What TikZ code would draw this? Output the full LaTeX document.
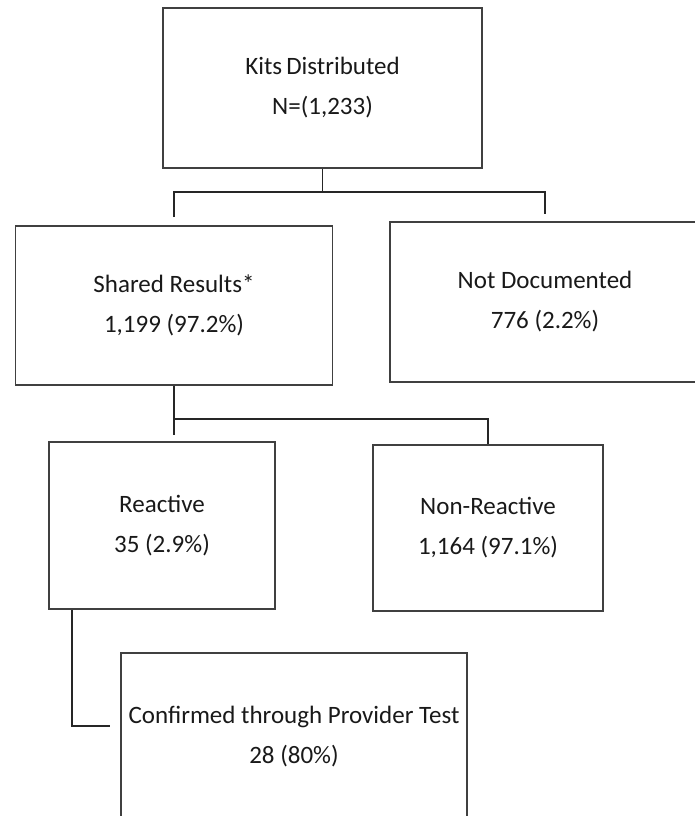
\documentclass[tikz,border=0pt]{standalone}
\usepackage{fontspec}
\setmainfont{Carlito}
\begin{document}
\begin{tikzpicture}[x=1pt,y=-1pt,
  box/.style={draw=black!75,line width=1.8pt,rectangle,align=center,text=black!90,
    font=\fontsize{25}{40}\selectfont,inner sep=0pt},
  link/.style={draw=black!85,line width=1.6pt}]
\clip (0,0) rectangle (695,816);
\node[box,minimum width=319pt,minimum height=160pt] (kits) at (322.5,88) {Kits\,Distributed\\N=(1,233)};
\node[box,minimum width=317pt,minimum height=159pt] (shared) at (174,305.5) {Shared Results*\\1,199 (97.2\%)};
\node[box,minimum width=310pt,minimum height=160pt] (notdoc) at (545,302) {Not Documented\\776 (2.2\%)};
\node[box,minimum width=226pt,minimum height=167pt] (react) at (162,525.5) {Reactive\\35 (2.9\%)};
\node[box,minimum width=230pt,minimum height=166pt] (nonreact) at (488,528) {Non-Reactive\\1,164 (97.1\%)};
\node[box,minimum width=346pt,minimum height=168pt] (conf) at (294,737) {Confirmed through Provider Test\\28 (80\%)};
\coordinate (j1) at (322.5,192);
\coordinate (j2) at (174,419);
\draw[link] (kits.south) -- (j1);
\draw[link] ([yshift=8pt]shared.north) |- (j1) -| ([yshift=7pt]notdoc.north);
\draw[link] (shared.south) -- ([yshift=6pt]shared.south |- react.north);
\draw[link] (j2) -| (nonreact.north);
\draw[link] ([xshift=24pt]react.south west) |- ([xshift=-10pt,yshift=11pt]conf.west);
\end{tikzpicture}
\end{document}
